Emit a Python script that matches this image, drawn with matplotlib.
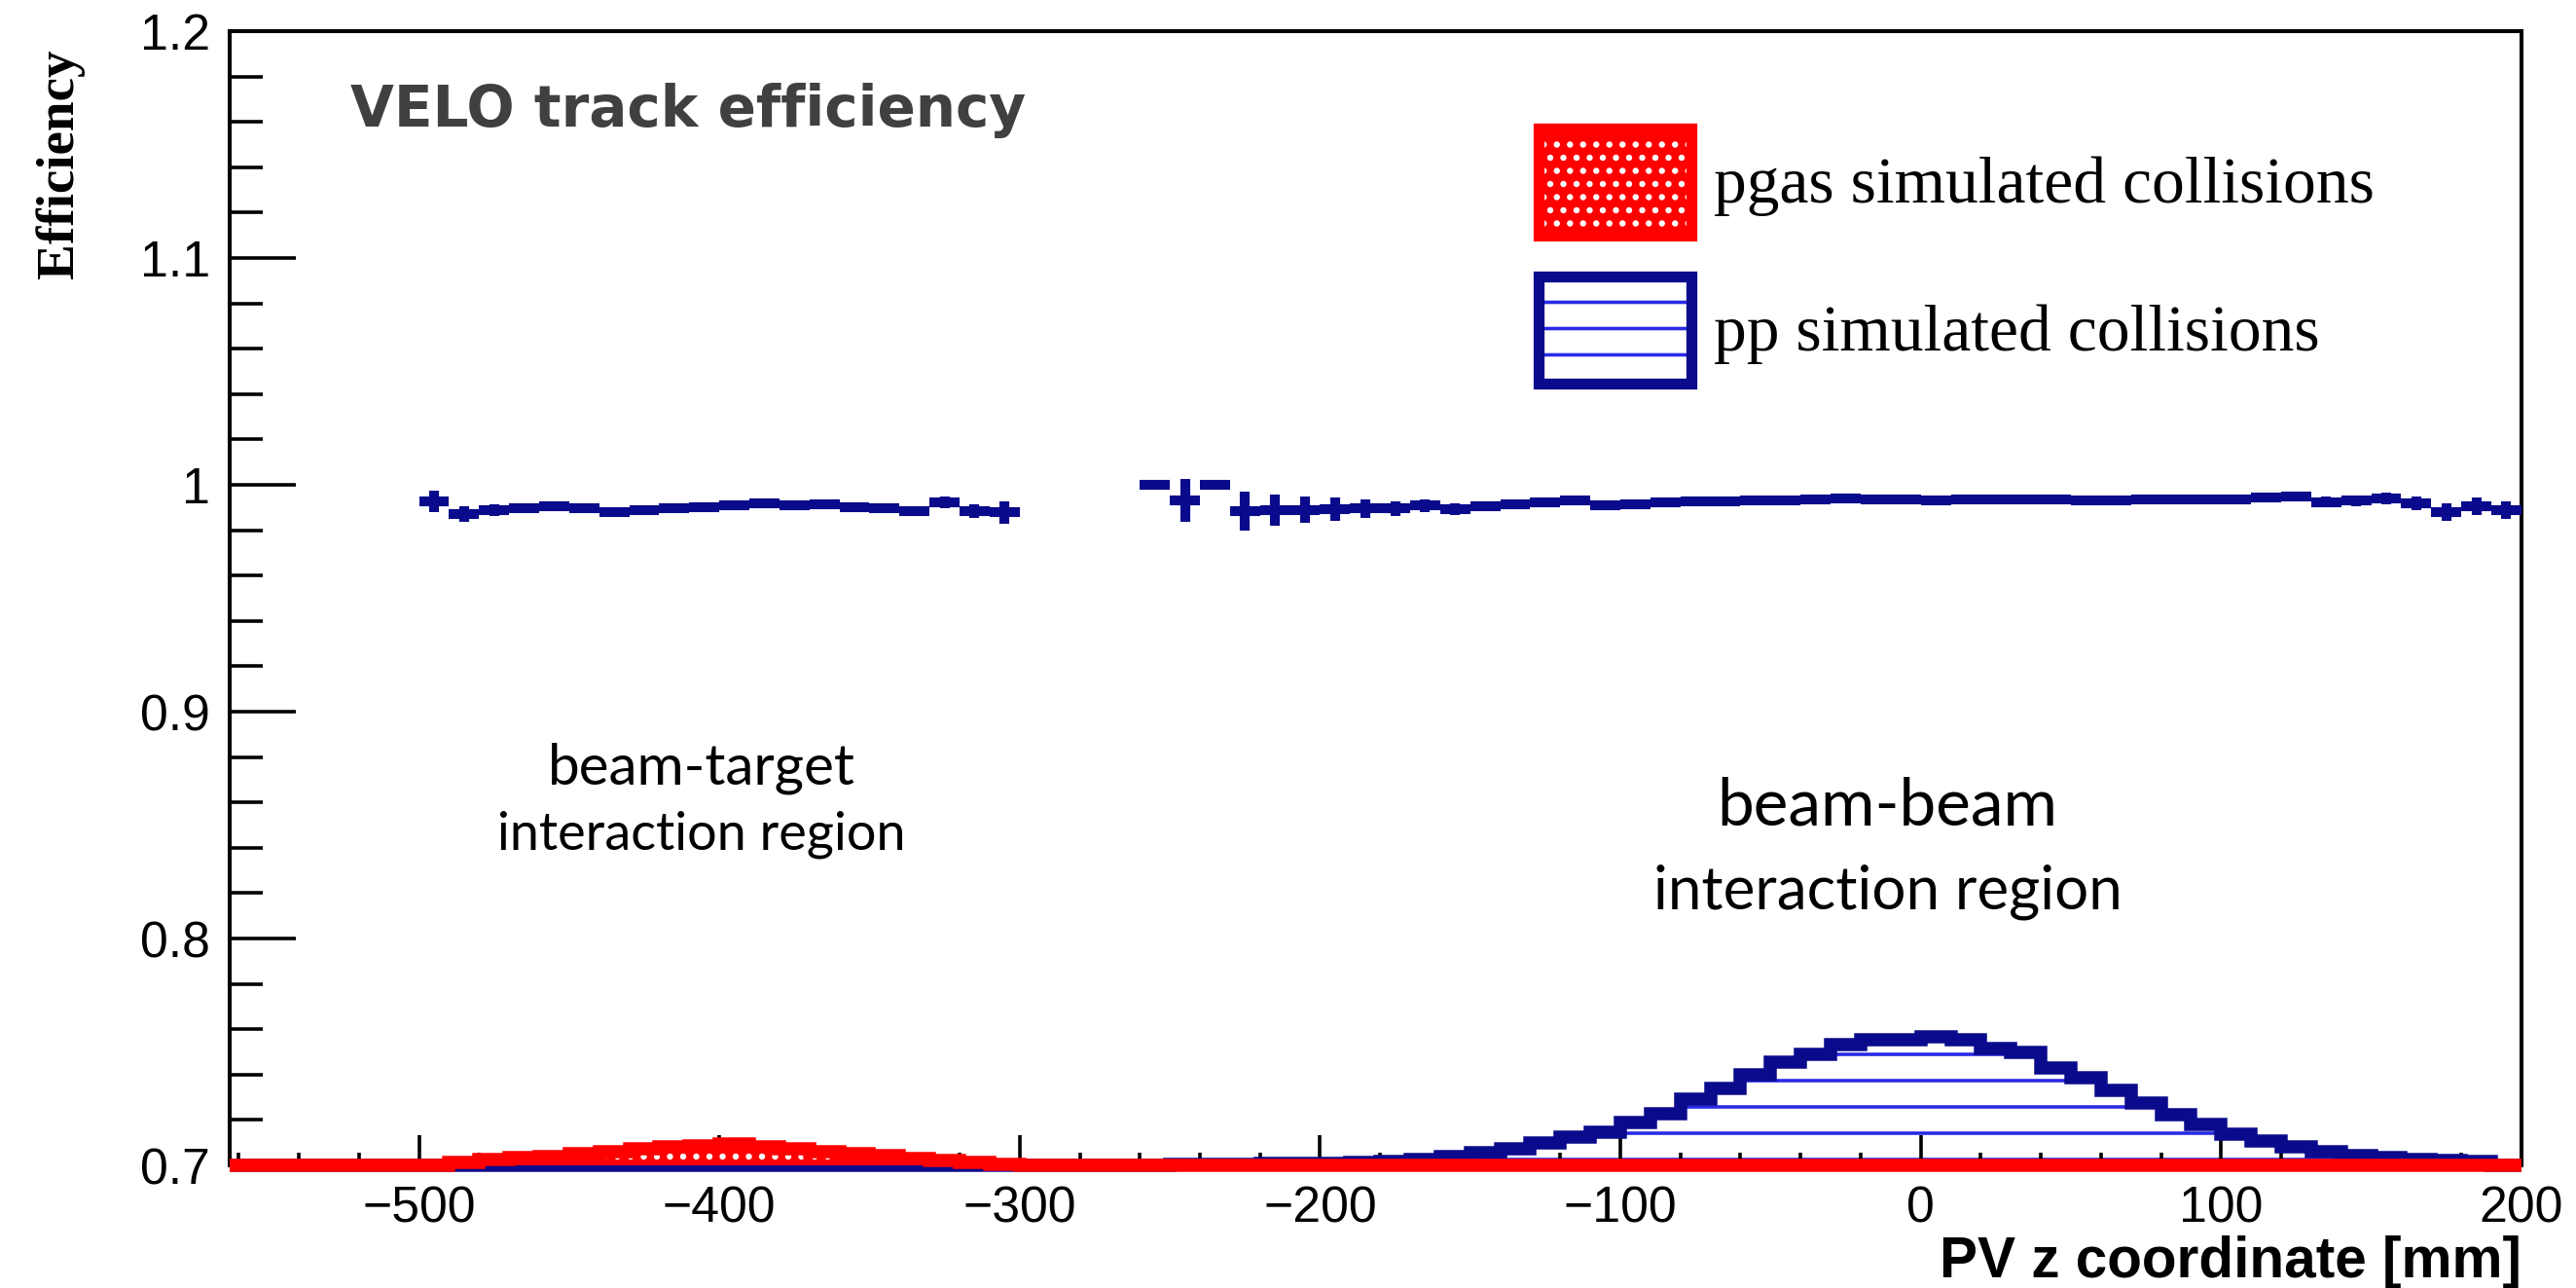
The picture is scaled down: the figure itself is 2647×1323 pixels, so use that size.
import matplotlib
matplotlib.use("Agg")
import matplotlib.pyplot as plt
import numpy as np
from matplotlib.patches import Patch
from matplotlib.legend_handler import HandlerTuple
from matplotlib.ticker import MultipleLocator, FuncFormatter

# ---- data ----
# VELO track efficiency, beam-target region (bin centres, mm)
eff_left_z = np.arange(-495, -300, 10)
eff_left = [0.9928, 0.9870, 0.9888, 0.9898, 0.9907, 0.9897, 0.9880, 0.9889, 0.9896, 0.9903,
            0.9910, 0.9918, 0.9910, 0.9913, 0.9903, 0.9896, 0.9885, 0.9922, 0.9885, 0.9879]
eff_left_err = [0.0046, 0.0035, 0.0025, 0.0022, 0.0020, 0.0020, 0.0020, 0.0020, 0.0020, 0.0020,
                0.0020, 0.0020, 0.0020, 0.0020, 0.0020, 0.0020, 0.0022, 0.0025, 0.0030, 0.0050]

# beam-beam region
eff_right_z = np.arange(-255, 200, 10)
eff_right = [1.0000, 0.9932, 1.0000, 0.9885, 0.9888, 0.9890, 0.9893, 0.9895, 0.9896, 0.9908,
             0.9893, 0.9905, 0.9915, 0.9925, 0.9930, 0.9912, 0.9916, 0.9922, 0.9926, 0.9928,
             0.9930, 0.9933, 0.9937, 0.9939, 0.9937, 0.9935, 0.9933, 0.9935, 0.9937, 0.9936,
             0.9934, 0.9933, 0.9932, 0.9934, 0.9936, 0.9937, 0.9937, 0.9943, 0.9950, 0.9925,
             0.9930, 0.9940, 0.9920, 0.9880, 0.9905, 0.9889]
eff_right_err = [0.0, 0.0095, 0.0, 0.0086, 0.0068, 0.0057, 0.0050, 0.0040, 0.0032, 0.0028,
                 0.0025, 0.0022, 0.0020, 0.0020, 0.0020, 0.0020, 0.0018, 0.0018, 0.0018, 0.0018,
                 0.0018, 0.0018, 0.0018, 0.0018, 0.0018, 0.0018, 0.0018, 0.0018, 0.0018, 0.0018,
                 0.0018, 0.0018, 0.0018, 0.0018, 0.0018, 0.0018, 0.0018, 0.0020, 0.0022, 0.0025,
                 0.0025, 0.0025, 0.0030, 0.0040, 0.0040, 0.0040]

# PV z distributions (drawn on the efficiency scale, 10 mm bins)
pgas_first_bin = -500
pgas_hist = [0.7002, 0.7012, 0.7026, 0.7033, 0.7040, 0.7050, 0.7062, 0.7072, 0.7080, 0.7086,
             0.7093, 0.7083, 0.7072, 0.7062, 0.7052, 0.7042, 0.7032, 0.7022, 0.7013, 0.7006,
             0.7002]
pp_first_bin = -250
pp_hist = [0.7004, 0.7005, 0.7006, 0.7007, 0.7008, 0.7010, 0.7015, 0.7018, 0.7028, 0.7040,
           0.7055, 0.7075, 0.7100, 0.7125, 0.7145, 0.7188, 0.7228, 0.7291, 0.7338, 0.7398,
           0.7453, 0.7489, 0.7532, 0.7553, 0.7553, 0.7565, 0.7553, 0.7517, 0.7496, 0.7431,
           0.7388, 0.7331, 0.7277, 0.7224, 0.7181, 0.7138, 0.7109, 0.7080, 0.7062, 0.7044,
           0.7033, 0.7027, 0.7022, 0.7019, 0.7000]

z_min, z_max = -563, 200
y_min, y_max = 0.7, 1.2

navy = "#0a0a8c"
hatch_blue = "#2a2ae6"
red = "#ff0000"

# full histogram grids
edges = np.concatenate([[z_min], np.arange(-560, z_max + 1, 10)])
left_edges = edges[:-1]
pgas_full = np.full(len(left_edges), y_min)
i0 = np.searchsorted(left_edges, pgas_first_bin)
pgas_full[i0:i0 + len(pgas_hist)] = pgas_hist
pp_full = np.full(len(left_edges), y_min)
j0 = np.searchsorted(left_edges, pp_first_bin)
pp_full[j0:j0 + len(pp_hist)] = pp_hist

plt.rcParams["hatch.linewidth"] = 1.6
dpi = 162
fig = plt.figure(figsize=(2647 / dpi, 1323 / dpi), dpi=dpi)
ax = fig.add_axes([0.0892, 0.0952, 0.8896, 0.8806])

# pp histogram: horizontal hatch lines inside the histogram + thick outline
hatch_levels = 0.7026 + 0.0116 * np.arange(5)
for lev in hatch_levels:
    inside = np.concatenate([[False], pp_full > lev + 0.001, [False]])
    starts = np.where(inside[1:] & ~inside[:-1])[0]
    stops = np.where(~inside[1:] & inside[:-1])[0]
    ax.hlines([lev] * len(starts), edges[starts], edges[stops], color=hatch_blue,
              linewidth=1.6, zorder=1)
ax.stairs(pp_full, edges, baseline=y_min, color=navy, linewidth=6,
          clip_on=False, zorder=2)
# pgas histogram: dotted red fill + thick outline
ax.stairs(pgas_full, edges, baseline=y_min, fill=True, facecolor=red,
          edgecolor="white", hatch="..", linewidth=0, zorder=3)
ax.stairs(pgas_full, edges, baseline=y_min, color=red, linewidth=6,
          clip_on=False, zorder=4)

# efficiency points
for z, e, err in [(eff_left_z, eff_left, eff_left_err),
                  (eff_right_z, eff_right, eff_right_err)]:
    ax.errorbar(z, e, xerr=5, yerr=err, fmt="none", ecolor=navy,
                elinewidth=4.5, capsize=0, zorder=5)

ax.set_xlim(z_min, z_max)
ax.set_ylim(y_min, y_max)

ax.xaxis.set_major_locator(MultipleLocator(100))
ax.xaxis.set_minor_locator(MultipleLocator(20))
ax.yaxis.set_major_locator(MultipleLocator(0.1))
ax.yaxis.set_minor_locator(MultipleLocator(0.02))
ax.yaxis.set_major_formatter(FuncFormatter(lambda v, p: f"{v:g}"))
ax.tick_params(axis="both", which="both", direction="in", width=1.6,
               top=False, right=False, labelsize=23, pad=9)
ax.tick_params(axis="y", which="major", length=30)
ax.tick_params(axis="y", which="minor", length=15)
ax.tick_params(axis="x", which="major", length=14)
ax.tick_params(axis="x", which="minor", length=6)
for lab in ax.get_xticklabels() + ax.get_yticklabels():
    lab.set_family("Liberation Sans")
for s in ax.spines.values():
    s.set_linewidth(1.8)
    s.set_zorder(1.5)

ax.set_xlabel("PV z coordinate [mm]", family="Liberation Sans", weight="bold",
              fontsize=26, ha="right", va="center")
ax.xaxis.set_label_coords(1.0, -0.085)
fig.text(0.0234, 0.9615, "Efficiency", rotation=90, ha="center", va="top",
         family="Liberation Serif", weight="bold", fontsize=24.5)

ax.text(-522.8, 1.165, "VELO track efficiency", ha="left", va="center",
        family="DejaVu Sans", weight="bold", fontsize=25.8, color="#404040")

ax.text(-406, 0.875, "beam-target", ha="center", va="center", family="Lato", fontsize=26)
ax.text(-406, 0.846, "interaction region", ha="center", va="center", family="Lato", fontsize=24)
ax.text(-11, 0.858, "beam-beam", ha="center", va="center", family="Lato", fontsize=30)
ax.text(-11, 0.8205, "interaction region", ha="center", va="center", family="Lato", fontsize=27.5)

pgas_handle = (Patch(facecolor=red, edgecolor="white", hatch="..", linewidth=0),
               Patch(facecolor="none", edgecolor=red, linewidth=5))
pp_handle = (Patch(facecolor="white", edgecolor=hatch_blue, hatch="-", linewidth=0),
             Patch(facecolor="none", edgecolor=navy, linewidth=5))
ax.legend([pgas_handle, pp_handle], ["pgas simulated collisions", "pp simulated collisions"],
          handler_map={tuple: HandlerTuple(ndivide=1, pad=0)},
          loc="upper left", bbox_to_anchor=(0.5712, 0.914), borderaxespad=0, borderpad=0,
          frameon=False, prop={"family": "Liberation Serif", "size": 30},
          handlelength=2.32, handleheight=2.13, handletextpad=0.35, labelspacing=0.62)

fig.savefig("out.png", dpi=dpi)
